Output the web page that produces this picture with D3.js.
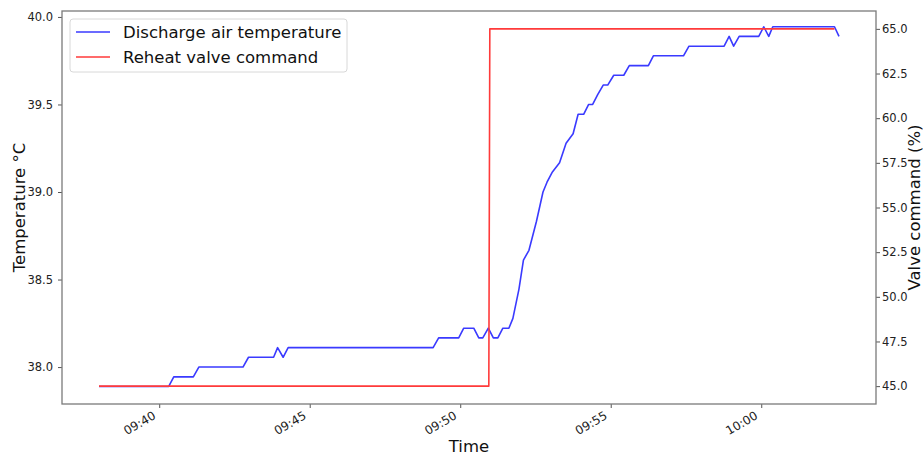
<!DOCTYPE html>
<html>
<head>
<meta charset="utf-8">
<script src="https://cdn.jsdelivr.net/npm/d3@7"></script>
<style>
  html, body { margin: 0; padding: 0; background: #fff; }
  svg { display: block; font-family: "DejaVu Sans", sans-serif; }
</style>
</head>
<body>
<svg id="chart" width="923" height="456"></svg>
<script>
// ---- data ----
const tempTimes = [
  "09:38:00","09:40:19","09:40:29","09:41:08","09:41:19","09:42:47","09:42:58",
  "09:43:48","09:43:56","09:44:07","09:44:17","09:49:06","09:49:17","09:49:57",
  "09:50:07","09:50:27","09:50:37","09:50:45","09:50:56","09:51:06","09:51:15",
  "09:51:25","09:51:37","09:51:45","09:51:57","09:52:06","09:52:17","09:52:32",
  "09:52:45","09:52:53","09:53:03","09:53:18","09:53:31","09:53:45","09:53:55",
  "09:54:06","09:54:16","09:54:24","09:54:34","09:54:45","09:54:54","09:55:06",
  "09:55:26","09:55:37","09:56:15","09:56:25","09:57:25","09:57:36","09:58:46",
  "09:58:56","09:59:05","09:59:16","09:59:55","10:00:05","10:00:15","10:00:23",
  "10:02:26","10:02:35"
];
const tempValues = [
  37.889,37.889,37.944,37.944,38.000,38.000,38.056,
  38.056,38.111,38.056,38.111,38.111,38.167,38.167,
  38.222,38.222,38.167,38.167,38.222,38.167,38.167,
  38.222,38.222,38.278,38.444,38.611,38.667,38.833,
  39.000,39.056,39.111,39.167,39.278,39.333,39.444,
  39.444,39.500,39.500,39.556,39.611,39.611,39.667,
  39.667,39.722,39.722,39.778,39.778,39.833,39.833,
  39.889,39.833,39.889,39.889,39.944,39.889,39.944,
  39.944,39.889
];
const valveTimes  = ["09:38:00","09:50:57","09:50:59","10:02:26"];
const valveValues = [45, 45, 65, 65];

const leftTicks  = [38.0, 38.5, 39.0, 39.5, 40.0];
const rightTicks = [45.0, 47.5, 50.0, 52.5, 55.0, 57.5, 60.0, 62.5, 65.0];
const xTickLabels = ["09:40","09:45","09:50","09:55","10:00"];

const seriesNames = ["Discharge air temperature", "Reheat valve command"];
const seriesColors = ["#3a3aff", "#ff3a3a"];

// ---- helpers ----
const parseT = d3.timeParse("%H:%M:%S");
const parseHM = d3.timeParse("%H:%M");
const tempData = tempTimes.map((t, i) => ({ t: parseT(t), v: tempValues[i] }));
const valveData = valveTimes.map((t, i) => ({ t: parseT(t), v: valveValues[i] }));

// ---- layout ----
const L = 62, R = 876, T = 11, B = 404;
const svg = d3.select("#chart");

const allT = tempData.concat(valveData).map(d => d.t);
const [t0, t1] = d3.extent(allT);
const pad = (t1 - t0) * 0.05;
const x = d3.scaleTime().domain([new Date(+t0 - pad), new Date(+t1 + pad)]).range([L, R]);
const yL = d3.scaleLinear().domain([37.789, 40.034]).range([B, T]);
const yR = d3.scaleLinear().domain([44, 66]).range([B, T]);

const tickFont = 11.5, labelFont = 16.5;

// left axis
const gL = svg.append("g").attr("transform", `translate(${L},0)`)
  .call(d3.axisLeft(yL).tickValues(leftTicks).tickFormat(d3.format(".1f")).tickSize(4).tickPadding(5));
// right axis
const gR = svg.append("g").attr("transform", `translate(${R},0)`)
  .call(d3.axisRight(yR).tickValues(rightTicks).tickFormat(d3.format(".1f")).tickSize(4).tickPadding(2));
// bottom axis
const gX = svg.append("g").attr("transform", `translate(0,${B})`)
  .call(d3.axisBottom(x).tickValues(xTickLabels.map(s => parseHM(s)))
        .tickFormat(d3.timeFormat("%H:%M")).tickSize(4));

[gL, gR, gX].forEach(g => {
  g.select(".domain").remove();
  g.selectAll("text").attr("font-size", tickFont).attr("fill", "#222")
    .attr("font-family", "DejaVu Sans, sans-serif");
  g.selectAll("line").attr("stroke", "#555");
});
gX.selectAll("text")
  .attr("text-anchor", "end")
  .attr("dy", null).attr("y", null)
  .attr("font-size", 12)
  .attr("transform", "translate(-3,14) rotate(-30)");

// lines
const lineL = d3.line().x(d => x(d.t)).y(d => yL(d.v));
const lineR = d3.line().x(d => x(d.t)).y(d => yR(d.v));
svg.append("path").datum(tempData).attr("d", lineL)
  .attr("fill", "none").attr("stroke", seriesColors[0]).attr("stroke-width", 1.6)
  .attr("stroke-linejoin", "round");
svg.append("path").datum(valveData).attr("d", lineR)
  .attr("fill", "none").attr("stroke", seriesColors[1]).attr("stroke-width", 1.6)
  .attr("stroke-linejoin", "round");

// frame
svg.append("rect").attr("x", L).attr("y", T).attr("width", R - L).attr("height", B - T)
  .attr("fill", "none").attr("stroke", "#7a7a7a").attr("stroke-width", 1.3);

// axis labels
svg.append("text").attr("x", (L + R) / 2).attr("y", 452).attr("text-anchor", "middle")
  .attr("font-size", labelFont).attr("fill", "#111").text("Time");
svg.append("text").attr("transform", `translate(25,${(T + B) / 2}) rotate(-90)`)
  .attr("text-anchor", "middle").attr("font-size", labelFont).attr("fill", "#111")
  .text("Temperature °C");
svg.append("text").attr("transform", `translate(920,${(T + B) / 2}) rotate(-90)`)
  .attr("text-anchor", "middle").attr("font-size", labelFont).attr("fill", "#111")
  .text("Valve command (%)");

// legend
const lg = svg.append("g");
lg.append("rect").attr("x", 70).attr("y", 19).attr("width", 277).attr("height", 53)
  .attr("rx", 3).attr("fill", "#fff").attr("fill-opacity", 0.8)
  .attr("stroke", "#d8d8d8").attr("stroke-width", 1);
seriesNames.forEach((name, i) => {
  const yy = 32 + i * 25;
  lg.append("line").attr("x1", 76).attr("x2", 110).attr("y1", yy).attr("y2", yy)
    .attr("stroke", seriesColors[i]).attr("stroke-width", 1.6);
  lg.append("text").attr("x", 123).attr("y", yy).attr("dy", "0.36em")
    .attr("font-size", labelFont).attr("fill", "#111").text(name);
});
</script>
</body>
</html>
